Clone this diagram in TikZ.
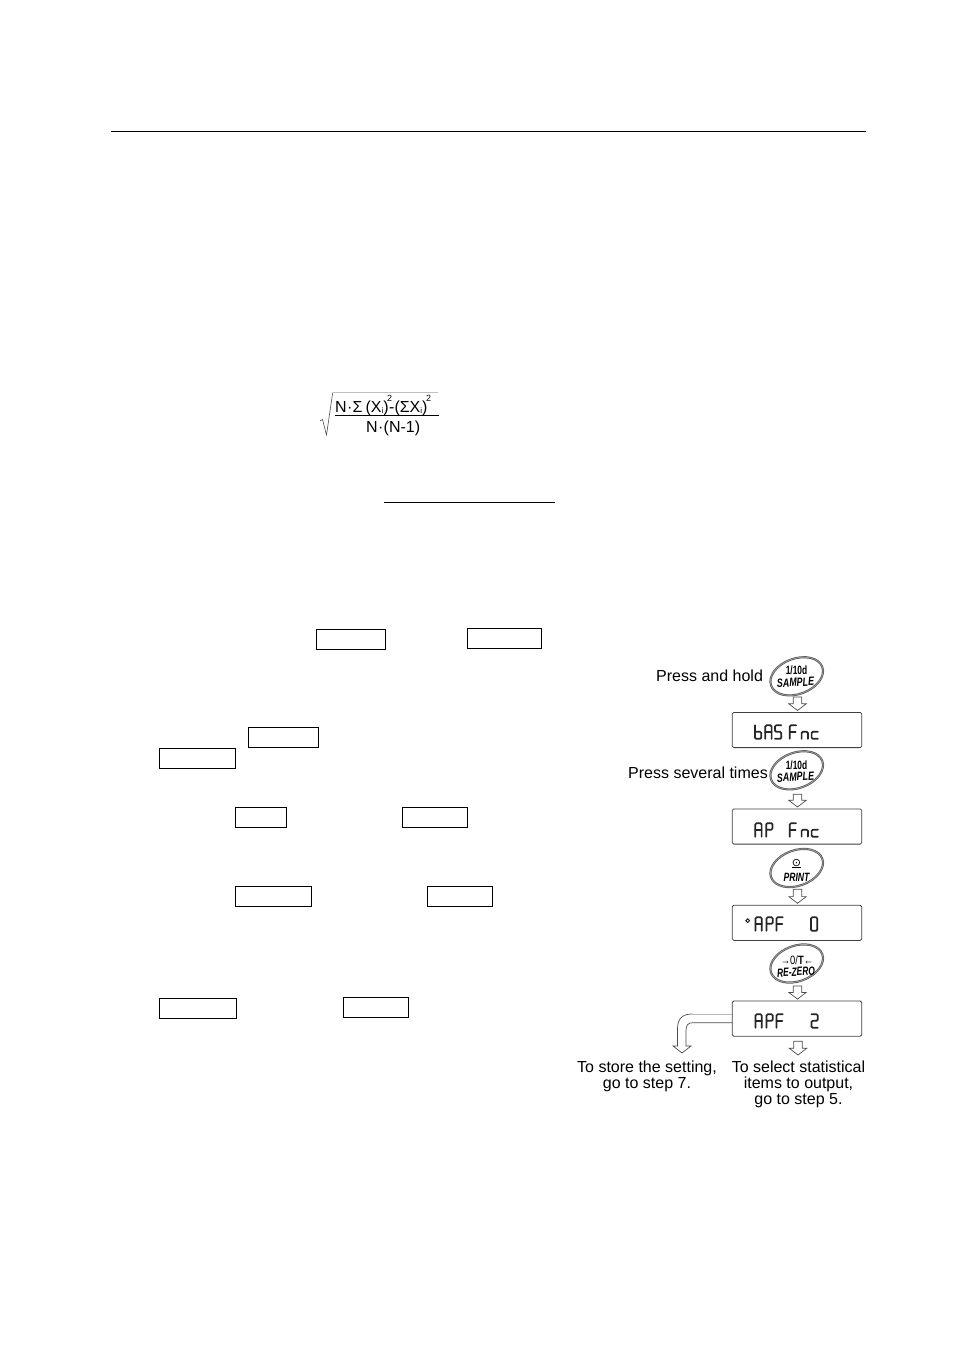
\documentclass[tikz,border=0pt]{standalone}
\usepackage{fontspec}
\setmainfont{Liberation Sans}
\newfontfamily\symfont{DejaVu Sans}
\usetikzlibrary{shapes.geometric,calc}

% Hollow down arrow: from a start coordinate to the tip height of a second point
\newcommand{\hollowdown}[2]{%
  \draw[hollowline] let \p1=(#1), \p2=(#2) in
    (\x1-4.2pt,\y1) -- (\x1+4.2pt,\y1) -- (\x1+4.2pt,\y2+6.7pt) -- (\x1+8.7pt,\y2+6.7pt)
    -- (\x1,\y2) -- (\x1-8.7pt,\y2+6.7pt) -- (\x1-4.2pt,\y2+6.7pt) -- cycle;}

\tikzset{
  x=1pt, y=-1pt,
  rulestroke/.style={line width=0.9pt},
  keybox/.style={draw, line width=1pt, inner sep=0pt, anchor=north west},
  display/.style={draw=black!75, line width=0.8pt, rounded corners=1.5pt, inner sep=0pt,
    minimum width=129.5pt, minimum height=35.2pt},
  keyoval/.style={ellipse, draw=black!65, double=black!35, line width=0.75pt, double distance=0.6pt,
    rotate=20, minimum width=54.5pt, minimum height=35.5pt, inner sep=0pt},
  keytext/.style={font=\fontsize{12}{12}\selectfont\bfseries\itshape, inner sep=0pt, anchor=base},
  captext/.style={font=\fontsize{16}{16}\selectfont, inner sep=0pt},
  hollowline/.style={draw=black!70, line width=0.7pt, fill=white, line join=miter},
  seg/.style={line width=1.7pt, rounded corners=1.2pt, line cap=round, draw=black!85},
  glyphb/.pic={\draw[seg] (0,0) -- (0,13.5) -- (6.3,13.5) -- (6.3,6.5) -- (0,6.5);},
  glyphA/.pic={\draw[seg] (0,13.5) -- (0,0) -- (6.3,0) -- (6.3,13.5); \draw[seg] (0,6.5) -- (6.3,6.5);},
  glyphS/.pic={\draw[seg] (6.3,0) -- (0,0) -- (0,6.5) -- (6.3,6.5) -- (6.3,13.5) -- (0,13.5);},
  glyphF/.pic={\draw[seg] (6.3,0) -- (0,0) -- (0,13.5); \draw[seg] (0,6.5) -- (5.8,6.5);},
  glyphn/.pic={\draw[seg] (0,13.5) -- (0,6.5) -- (6.3,6.5) -- (6.3,13.5);},
  glyphc/.pic={\draw[seg] (6.3,6.5) -- (0,6.5) -- (0,13.5) -- (6.3,13.5);},
  glyphP/.pic={\draw[seg] (0,13.5) -- (0,0) -- (6.3,0) -- (6.3,6.5) -- (0,6.5);},
  glyphzero/.pic={\draw[seg] (0,0) rectangle (6.3,13.5);},
  glyphtwo/.pic={\draw[seg] (0,0) -- (6.3,0) -- (6.3,6.5) -- (0,6.5) -- (0,13.5) -- (6.3,13.5);},
}

\begin{document}
\begin{tikzpicture}
\useasboundingbox (0,0) rectangle (954,1350);
\fill[white] (0,0) rectangle (954,1350);

% Page rule and underlined heading rule
\coordinate (ruleA) at (111,131);
\coordinate (ruleB) at (866,131);
\draw[rulestroke] (ruleA) -- (ruleB);
\coordinate (underA) at (384,502);
\coordinate (underB) at (555,502);
\draw[rulestroke] (underA) -- (underB);

% Standard deviation formula
\coordinate (rootA) at (320,421);
\coordinate (rootB) at (322.5,419.5);
\coordinate (rootC) at (326.5,435);
\coordinate (rootD) at (332.7,392.7);
\coordinate (rootE) at (438,392.7);
\draw[line width=0.6pt, black!70] (rootA) -- (rootB) -- (rootC) -- (rootD);
\draw[line width=0.8pt, black!25] (rootD) -- (rootE);
\coordinate (barA) at (335,415.3);
\coordinate (barB) at (439,415.3);
\draw[line width=0.8pt] (barA) -- (barB);
\node[captext, anchor=base west] (numer) at (335,412.3)
  {N\kern.3pt·\kern.3ptΣ\kern3pt(X\raisebox{-1pt}{\fontsize{8}{8}\selectfont i})\kern-1.5pt\raisebox{11pt}{\fontsize{9}{9}\selectfont 2}\kern-3pt-(ΣX\raisebox{-1pt}{\fontsize{8}{8}\selectfont i})\kern-1.5pt\raisebox{11pt}{\fontsize{9}{9}\selectfont 2}};
\node[captext, anchor=base west] (denom) at (366,432.8) {N\kern.3pt·\kern.3pt(N-1)};

% Boxes reserved for key names in the running text
\foreach \nm/\xa/\ya/\xb/\yb in {
  boxA/316.3/629.3/385.7/649.7, boxB/467.3/628.3/541.7/648.7,
  boxC/248.3/727.3/318.7/747.7, boxD/159.3/748.3/235.7/768.7,
  boxE/235.3/807.3/286.7/827.7, boxF/402.3/807.3/467.7/827.7,
  boxG/235.3/886.3/311.7/906.7, boxH/427.3/886.3/492.7/906.7,
  boxI/159.3/998.3/236.7/1018.7, boxJ/343.3/997.3/408.7/1017.7}
{
  \pgfmathsetmacro{\boxw}{\xb-\xa-1}
  \pgfmathsetmacro{\boxh}{\yb-\ya-0.8}
  \node[keybox, minimum width=\boxw pt, minimum height=\boxh pt] (\nm) at (\xa,\ya) {};
}

% Displays
\node[display] (dispA) at (797,730) {};
\node[display] (dispB) at (797,826.5) {};
\node[display] (dispC) at (797,922.8) {};
\node[display] (dispD) at (797,1018.6) {};

% Keys
\node[keyoval] (keyA) at (796.7,676.3) {};
\node[keyoval] (keyB) at (796.7,770.3) {};
\node[keyoval] (keyC) at (796.7,868) {};
\node[keyoval] (keyD) at (796.7,963.5) {};

\node[keytext] (keyAa) at (796.5,674.5) {\scalebox{.7}[1]{\textup{1/10d}}};
\node[keytext] (keyAb) at (795.5,687.5) {\rotatebox{3}{\scalebox{.74}[1]{SAMPLE}}};
\node[keytext] (keyBa) at (796.5,769) {\scalebox{.7}[1]{\textup{1/10d}}};
\node[keytext] (keyBb) at (795.5,782) {\rotatebox{3}{\scalebox{.74}[1]{SAMPLE}}};
\node[keytext] (keyCa) at (796.5,866) {{\symfont\fontsize{11}{11}\selectfont\mdseries\upshape\underline{⊙}}};
\node[keytext] (keyCb) at (796.5,881) {\scalebox{.72}[1]{PRINT}};
\node[keytext] (keyDa) at (797,964) {\scalebox{.78}[1]{\mdseries\upshape →0/\textbf{T}←}};
\node[keytext] (keyDb) at (796,977) {\rotatebox{3}{\scalebox{.7}[1]{RE-ZERO}}};

% Seven-segment readouts
\foreach \g/\gx in {glyphb/755, glyphA/765.3, glyphS/775, glyphF/789.8, glyphn/801.6, glyphc/811.6}
  \pic at (\gx,725.3) {\g};
\foreach \g/\gx in {glyphA/755.3, glyphP/766.2, glyphF/789.8, glyphn/801.6, glyphc/811.6}
  \pic at (\gx,823.2) {\g};
\foreach \g/\gx in {glyphA/755.5, glyphP/766.5, glyphF/776.5, glyphzero/811}
  \pic at (\gx,917.3) {\g};
\draw[line width=1pt, black!85] (747.7,920.7) circle (1.8);
\foreach \g/\gx in {glyphA/755.5, glyphP/766.5, glyphF/776.5, glyphtwo/811.5}
  \pic at (\gx,1014.3) {\g};

% Flow arrows between keys and displays
\coordinate (arrA) at (797.5,697);
\coordinate (arrB) at (797.5,794.3);
\coordinate (arrC) at (797.5,889.3);
\coordinate (arrD) at (797.5,986);
\coordinate (arrE) at (798,1041.3);
\coordinate (arrEtip) at (798,1055);
\hollowdown{arrA}{$(dispA.north)+(0,-1.5)$}
\hollowdown{arrB}{$(dispB.north)+(0,-1.5)$}
\hollowdown{arrC}{$(dispC.north)+(0,-1.5)$}
\hollowdown{arrD}{$(dispD.north)+(0,-1.5)$}
\hollowdown{arrE}{arrEtip}

% Branch arrow leaving the last display to the left
\coordinate (brTop) at ($(dispD.west)+(0,-4.6)$);
\coordinate (brLow) at ($(dispD.west)+(0,4.1)$);
\draw[line width=0.9pt, black!28] (brTop) -- (692,1014);
\draw[hollowline, fill=none, rounded corners=0pt]
  (692,1014) .. controls (682,1014) and (677.5,1019) .. (677.5,1029)
  -- (677.5,1046) -- (673,1046) -- (682,1053) -- (691,1046) -- (686,1046) -- (686,1031)
  .. controls (686,1025) and (688,1022.7) .. (693,1022.7) -- (brLow);

% Captions
\node[captext, anchor=base west] (capHold) at (656,681.5) {Press and hold};
\node[captext, anchor=base west] (capTimes) at (628,778) {Press several times};
\node[captext, anchor=base] (capStoreA) at (647,1072.5) {To store the setting,};
\node[captext, anchor=base] (capStoreB) at (647,1088) {go to step 7.};
\node[captext, anchor=base] (capSelA) at (798.5,1072.5) {To select statistical};
\node[captext, anchor=base] (capSelB) at (798.5,1088) {items to output,};
\node[captext, anchor=base] (capSelC) at (798.5,1104.5) {go to step 5.};
\end{tikzpicture}
\end{document}
